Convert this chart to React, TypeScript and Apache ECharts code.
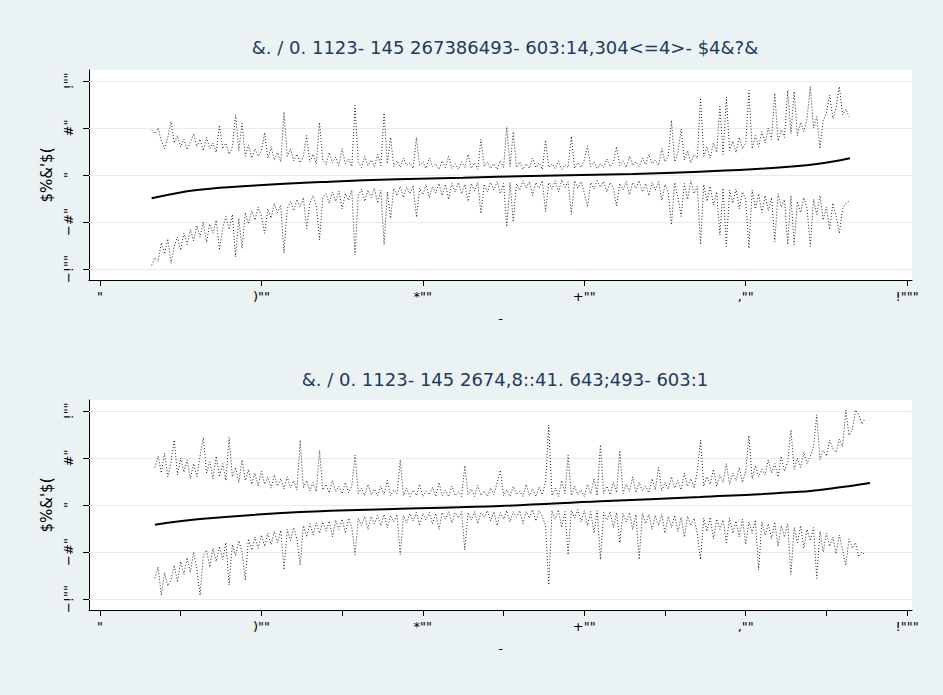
import React, { useEffect, useRef } from 'react';
import * as echarts from 'echarts';

// ---------- text ----------
const title1 = '&. / 0. 1123- 145 267386493- 603:14,304<=4>- $4&?&';
const title2 = '&. / 0. 1123- 145 2674,8::41. 643;493- 603:1';
const yAxisTitle = "$%&'$(";
const xAxisTitle = '-';

// ---------- ticks ----------
const xMajorTicks = [0, 200, 400, 600, 800, 1000];
const xMinorTicks = [100, 300, 500, 700, 900];
const xTickLabels = ['"', ')""', '*""', '+""', ',""', '!"""'];
const yTicks = [-100, -50, 0, 50, 100];
const yTickLabels = ['−!""', '−#"', '"', '#"', '!""'];

// ---------- panel 1 (observations at x = 64, 68, 72, ... step 4) ----------
const start1 = 64;
const upper1 = [
  48, 44, 50, 36, 28, 40, 57, 34, 42, 30,
  38, 27, 35, 44, 30, 38, 26, 40, 28, 34,
  24, 53, 28, 34, 22, 30, 64, 26, 55, 20,
  32, 18, 28, 20, 26, 45, 18, 30, 16, 24,
  14, 67, 20, 28, 15, 22, 13, 20, 42, 14,
  22, 12, 56, 16, 11, 24, 13, 19, 10, 28,
  12, 17, 9, 74, 14, 8, 20, 10, 16, 9,
  22, 10, 66, 12, 40, 9, 15, 8, 18, 10,
  13, 7, 40, 10, 14, 7, 18, 9, 12, 6,
  15, 8, 20, 7, 12, 6, 14, 8, 22, 7,
  13, 6, 38, 9, 14, 7, 12, 6, 15, 8,
  51, 9, 46, 8, 14, 6, 12, 7, 18, 8,
  13, 6, 37, 8, 12, 7, 15, 6, 11, 8,
  41, 7, 13, 8, 16, 31, 9, 14, 7, 12,
  8, 17, 9, 13, 30, 10, 15, 8, 20, 10,
  14, 9, 18, 11, 22, 12, 16, 10, 28, 14,
  20, 58, 14, 24, 49, 16, 26, 13, 22, 18,
  82, 20, 30, 18, 34, 24, 73, 22, 83, 26,
  36, 24, 40, 28, 34, 90, 28, 42, 30, 46,
  34, 50, 38, 87, 36, 48, 40, 90, 44, 89,
  42, 56, 46, 60, 94, 50, 62, 28, 58, 66,
  85, 60, 72, 94, 64, 70, 62,
];
const lower1 = [
  -96, -88, -92, -72, -84, -68, -94, -76, -66, -80,
  -62, -74, -58, -70, -54, -66, -50, -72, -52, -62,
  -48, -80, -56, -44, -58, -42, -87, -46, -78, -40,
  -52, -38, -48, -34, -44, -62, -36, -46, -30, -40,
  -32, -83, -36, -28, -38, -26, -34, -24, -57, -30,
  -22, -32, -69, -24, -20, -30, -18, -28, -17, -36,
  -20, -27, -16, -85, -22, -15, -28, -16, -24, -14,
  -30, -16, -74, -18, -46, -14, -22, -12, -24, -13,
  -20, -11, -45, -14, -21, -10, -24, -12, -19, -9,
  -22, -10, -26, -9, -18, -8, -20, -10, -28, -9,
  -17, -8, -41, -10, -18, -8, -16, -7, -20, -9,
  -55, -8, -50, -9, -16, -6, -14, -7, -22, -8,
  -14, -6, -39, -8, -15, -6, -18, -5, -13, -7,
  -42, -6, -14, -7, -19, -34, -8, -15, -6, -13,
  -7, -18, -8, -14, -33, -9, -16, -7, -21, -8,
  -14, -6, -18, -9, -22, -8, -16, -7, -27, -10,
  -18, -53, -8, -24, -44, -9, -26, -6, -20, -12,
  -74, -10, -28, -12, -32, -18, -64, -14, -76, -16,
  -30, -15, -36, -18, -26, -78, -16, -36, -20, -40,
  -22, -38, -24, -71, -20, -34, -26, -74, -22, -74,
  -28, -40, -24, -36, -76, -26, -42, -22, -48, -34,
  -58, -30, -44, -62, -36, -30, -28,
];
const fitX1 = [64, 120, 202, 285, 368, 450, 533, 660, 743, 827, 888, 929];
const fit1 = [-24.8, -16, -10.6, -7.1, -4.6, -2.9, -1.1, 1.1, 3.5, 7.1, 11.7, 17.8];

// ---------- panel 2 (observations at x = 68, 72, 76, ... step 4) ----------
const start2 = 68;
const upper2 = [
  40, 52, 34, 55, 30, 46, 69, 32, 50, 35,
  48, 28, 44, 30, 52, 72, 34, 46, 28, 52,
  30, 44, 26, 72, 30, 40, 24, 48, 26, 38,
  22, 34, 20, 36, 22, 30, 18, 32, 20, 28,
  17, 30, 18, 26, 16, 69, 18, 26, 15, 24,
  14, 58, 16, 22, 13, 26, 14, 20, 12, 24,
  13, 20, 53, 12, 18, 10, 22, 11, 17, 10,
  20, 11, 26, 10, 16, 12, 48, 10, 18, 9,
  16, 10, 22, 9, 15, 11, 19, 9, 24, 10,
  16, 9, 20, 10, 14, 9, 42, 11, 17, 9,
  21, 10, 15, 9, 18, 11, 24, 37, 10, 16,
  9, 20, 11, 15, 9, 22, 10, 17, 9, 19,
  11, 24, 85, 10, 18, 9, 26, 12, 53, 10,
  20, 11, 16, 9, 22, 12, 28, 10, 64, 12,
  20, 11, 24, 13, 58, 12, 22, 14, 30, 13,
  24, 15, 20, 13, 28, 16, 40, 15, 24, 17,
  30, 18, 26, 16, 34, 20, 28, 18, 36, 69,
  20, 30, 22, 38, 20, 32, 24, 44, 22, 34,
  26, 40, 24, 36, 74, 28, 42, 30, 38, 32,
  48, 34, 44, 30, 52, 36, 46, 80, 38, 50,
  40, 56, 44, 52, 62, 96, 48, 58, 52, 69,
  60, 56, 70, 62, 101, 74, 80, 101, 96, 86, 92,
];
const lower2 = [
  -78, -66, -96, -72, -86, -80, -64, -82, -60, -74,
  -56, -72, -50, -68, -96, -54, -48, -66, -46, -60,
  -44, -58, -40, -85, -42, -54, -38, -50, -80, -36,
  -48, -34, -46, -32, -44, -30, -42, -28, -40, -27,
  -69, -26, -38, -24, -36, -64, -22, -34, -20, -32,
  -19, -30, -18, -28, -17, -34, -16, -26, -15, -30,
  -14, -24, -53, -14, -22, -12, -26, -12, -20, -11,
  -22, -10, -24, -11, -18, -10, -53, -11, -19, -9,
  -17, -8, -22, -9, -16, -8, -20, -9, -26, -8,
  -15, -7, -19, -8, -14, -7, -48, -8, -16, -7,
  -20, -8, -13, -6, -17, -7, -22, -8, -15, -6,
  -18, -7, -13, -6, -20, -7, -14, -5, -17, -6,
  -12, -22, -85, -6, -15, -5, -24, -7, -53, -6,
  -14, -5, -18, -6, -22, -7, -30, -6, -58, -8,
  -16, -7, -24, -8, -40, -9, -18, -8, -26, -10,
  -58, -9, -20, -10, -26, -11, -22, -10, -30, -12,
  -24, -11, -28, -13, -34, -12, -22, -14, -30, -58,
  -14, -28, -13, -36, -15, -26, -16, -40, -14, -30,
  -17, -34, -15, -42, -18, -30, -16, -69, -18, -32,
  -20, -36, -18, -44, -22, -34, -20, -74, -24, -40,
  -22, -46, -26, -38, -24, -78, -28, -50, -30, -44,
  -34, -52, -32, -48, -64, -36, -46, -40, -55, -50, -53,
];
const fitX2 = [68, 124, 248, 372, 496, 620, 743, 867, 910, 954];
const fit2 = [-21, -15, -7.5, -4, -1, 4, 8.5, 14, 18, 23.4];

const STEP = 4;
const obs = (start: number, ys: number[]) => ys.map((y, i) => [start + STEP * i, y]);
const pairs = (xs: number[], ys: number[]) => xs.map((x, i) => [x, ys[i]]);

const FONT = 'DejaVu Sans, Liberation Sans, sans-serif';
const BG = '#eaf2f3';
const TITLE_COLOR = '#1e3a5c';

export default function App() {
  const ref = useRef<HTMLDivElement>(null);
  useEffect(() => {
    document.body.style.margin = '0';
    if (!ref.current) return;
    const chart = echarts.init(ref.current, undefined, { renderer: 'svg' });

    const grids = [
      { left: 89, top: 70, width: 823, height: 210 },
      { left: 89, top: 400, width: 823, height: 210 },
    ];

    const mkX = (idx: number, withMinor: boolean) => ({
      type: 'value',
      gridIndex: idx,
      min: -13.6,
      max: 1006,
      axisLine: { show: true, onZero: false, lineStyle: { color: '#000', width: 1 } },
      axisTick: {
        show: true,
        length: 6,
        inside: false,
        customValues: withMinor ? [...xMajorTicks, ...xMinorTicks] : xMajorTicks,
        lineStyle: { color: '#000', width: 1 },
      },
      axisLabel: {
        show: true,
        customValues: xMajorTicks,
        margin: 10,
        fontFamily: FONT,
        fontSize: 13,
        color: '#000',
        formatter: (v: number) => {
          const i = xMajorTicks.indexOf(Math.round(v));
          return i >= 0 ? xTickLabels[i] : '';
        },
      },
      splitLine: { show: false },
      name: xAxisTitle,
      nameLocation: 'middle',
      nameGap: 32,
      nameTextStyle: { fontFamily: FONT, fontSize: 13, color: '#000' },
    });

    const mkY = (idx: number) => ({
      type: 'value',
      gridIndex: idx,
      min: -111.7,
      max: 111.7,
      axisLine: { show: true, onZero: false, lineStyle: { color: '#000', width: 1 } },
      axisTick: {
        show: true,
        length: 6,
        customValues: yTicks,
        lineStyle: { color: '#000', width: 1 },
      },
      axisLabel: {
        show: true,
        customValues: yTicks,
        rotate: 90,
        margin: 14,
        fontFamily: FONT,
        fontSize: 13,
        color: '#000',
        formatter: (v: number) => {
          const i = yTicks.indexOf(Math.round(v));
          return i >= 0 ? yTickLabels[i] : '';
        },
      },
      splitLine: { show: false },
      name: yAxisTitle,
      nameLocation: 'middle',
      nameGap: 33,
      nameRotate: 90,
      nameTextStyle: { fontFamily: FONT, fontSize: 15, color: '#000' },
    });

    const dotted = (idx: number, data: number[][], grid: boolean) => ({
      type: 'line',
      xAxisIndex: idx,
      yAxisIndex: idx,
      data,
      showSymbol: false,
      symbol: 'none',
      lineStyle: { color: '#222', width: 1, type: [1, 2] },
      z: 3,
      markLine: grid
        ? {
            silent: true,
            symbol: 'none',
            label: { show: false },
            lineStyle: { color: '#e4eef0', width: 1, type: 'solid' },
            data: yTicks.map((v) => ({ yAxis: v })),
            z: 1,
          }
        : undefined,
    });

    const fit = (idx: number, xs: number[], ys: number[]) => ({
      type: 'line',
      xAxisIndex: idx,
      yAxisIndex: idx,
      data: pairs(xs, ys),
      showSymbol: false,
      symbol: 'none',
      smooth: 0.4,
      lineStyle: { color: '#000', width: 2 },
      z: 4,
    });

    const titleText = (text: string, y: number) => ({
      type: 'text',
      x: 505,
      y,
      style: {
        text,
        align: 'center',
        verticalAlign: 'middle',
        fontFamily: FONT,
        fontSize: 18,
        fill: TITLE_COLOR,
      },
    });

    chart.setOption({
      animation: false,
      backgroundColor: BG,
      grid: grids.map((g) => ({
        ...g,
        show: true,
        backgroundColor: '#ffffff',
        borderWidth: 0,
        containLabel: false,
        outerBoundsMode: 'none',
      })),
      xAxis: [mkX(0, false), mkX(1, true)],
      yAxis: [mkY(0), mkY(1)],
      graphic: [titleText(title1, 47), titleText(title2, 379)],
      series: [
        dotted(0, obs(start1, upper1), true),
        dotted(0, obs(start1, lower1), false),
        fit(0, fitX1, fit1),
        dotted(1, obs(start2, upper2), true),
        dotted(1, obs(start2, lower2), false),
        fit(1, fitX2, fit2),
      ],
    });
    return () => chart.dispose();
  }, []);
  return <div ref={ref} style={{ width: 943, height: 695 }} />;
}
